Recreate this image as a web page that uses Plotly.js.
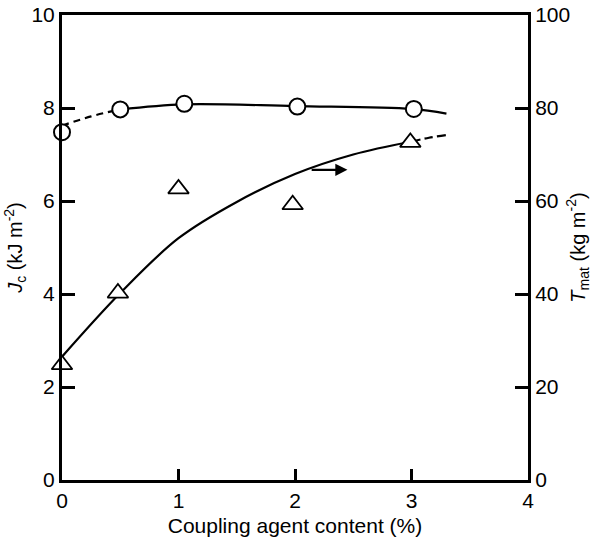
<!DOCTYPE html>
<html>
<head>
<meta charset="utf-8">
<script src="https://cdn.plot.ly/plotly-3.0.1.min.js"></script>
<style>html,body{margin:0;padding:0;background:#fff;}#chart{width:592px;height:542px;}</style>
</head>
<body>
<div id="chart"></div>
<script>
// Measured points: Jc (left axis)
var jcX = [0, 0.5, 1.05, 2.02, 3.02];
var jcY = [7.48, 7.97, 8.09, 8.03, 7.98];
// Jc curve: dashed part and solid part
var jcDashX = [0, 0.25, 0.5];
var jcDashY = [7.62, 7.82, 7.97];
var jcSolidX = [0.5, 1.05, 2.0, 3.0, 3.3];
var jcSolidY = [7.97, 8.08, 8.04, 7.98, 7.88];

// Measured points: Tmat (right axis)
var tX = [0, 0.48, 1.0, 1.98, 2.99];
var tY = [24.8, 40.2, 62.6, 59.2, 72.6];
// Tmat curve: solid part and dashed extension
var tSolidX = [0, 0.5, 1.0, 1.5, 2.0, 2.5, 3.0];
var tSolidY = [26.5, 40.2, 52.0, 59.8, 65.8, 70.0, 72.8];
var tDashX = [3.0, 3.15, 3.3];
var tDashY = [72.8, 73.6, 74.2];

// Arrow pointing to the right axis
var arrowFrom = [2.13, 66.7];
var arrowTo = [2.45, 66.7];

var xTicks = [0, 1, 2, 3, 4];
var yTicks = [0, 2, 4, 6, 8, 10];
var y2Ticks = [0, 20, 40, 60, 80, 100];

var FONT = 'Liberation Sans, Arial, Helvetica, sans-serif';
var lineStyle = {color: '#000', width: 2.2, shape: 'spline'};

var traces = [
  {x: jcDashX, y: jcDashY, mode: 'lines', line: Object.assign({}, lineStyle, {dash: '7px,5px'}), yaxis: 'y', hoverinfo: 'skip', cliponaxis: false},
  {x: jcSolidX, y: jcSolidY, mode: 'lines', line: lineStyle, yaxis: 'y', hoverinfo: 'skip', cliponaxis: false},
  {x: tSolidX, y: tSolidY, mode: 'lines', line: lineStyle, yaxis: 'y2', hoverinfo: 'skip', cliponaxis: false},
  {x: tDashX, y: tDashY, mode: 'lines', line: Object.assign({}, lineStyle, {dash: '9px,4px'}), yaxis: 'y2', hoverinfo: 'skip', cliponaxis: false},
  {x: jcX, y: jcY, mode: 'markers', yaxis: 'y', cliponaxis: false,
   marker: {symbol: 'circle', size: 16, color: '#fff', line: {color: '#000', width: 2}}},
  {x: tX, y: tY, mode: 'markers', yaxis: 'y2', cliponaxis: false,
   marker: {symbol: 'triangle-up', size: 18, color: '#fff', line: {color: '#000', width: 1.8}}}
];

var axisCommon = {
  showgrid: false, zeroline: false, showline: true, linecolor: '#000', linewidth: 3,
  ticks: 'inside', ticklen: 13, tickwidth: 3, tickcolor: '#000',
  tickfont: {family: FONT, size: 21, color: '#000'}
};

var layout = {
  width: 592, height: 542,
  margin: {l: 62, r: 64, t: 15, b: 62},
  paper_bgcolor: '#fff', plot_bgcolor: '#fff',
  showlegend: false,
  font: {family: FONT, color: '#000'},
  xaxis: Object.assign({}, axisCommon, {
    range: [0, 4], tickvals: xTicks, ticktext: xTicks.map(String), mirror: true, ticklen: 11,
    title: {text: 'Coupling agent content (%)', font: {family: FONT, size: 21, color: '#000'}, standoff: 8}
  }),
  yaxis: Object.assign({}, axisCommon, {
    range: [0, 10], tickvals: yTicks, ticktext: yTicks.map(String),
    title: {text: '<i>J</i><sub>c</sub> (kJ m<sup>-2</sup>)', font: {family: FONT, size: 20, color: '#000'}, standoff: 4}
  }),
  yaxis2: Object.assign({}, axisCommon, {
    range: [0, 100], overlaying: 'y', side: 'right', tickvals: y2Ticks, ticktext: y2Ticks.map(String),
    title: {text: '<i>T</i><sub>mat</sub> (kg m<sup>-2</sup>)', font: {family: FONT, size: 20, color: '#000'}, standoff: 4}
  }),
  annotations: [{
    x: arrowTo[0], y: arrowTo[1], xref: 'x', yref: 'y2',
    ax: arrowFrom[0], ay: arrowFrom[1], axref: 'x', ayref: 'y2',
    showarrow: true, arrowhead: 2, arrowsize: 1.1, arrowwidth: 2.2, arrowcolor: '#000', text: ''
  }]
};

Plotly.newPlot('chart', traces, layout, {staticPlot: true, displayModeBar: false});
</script>
</body>
</html>
